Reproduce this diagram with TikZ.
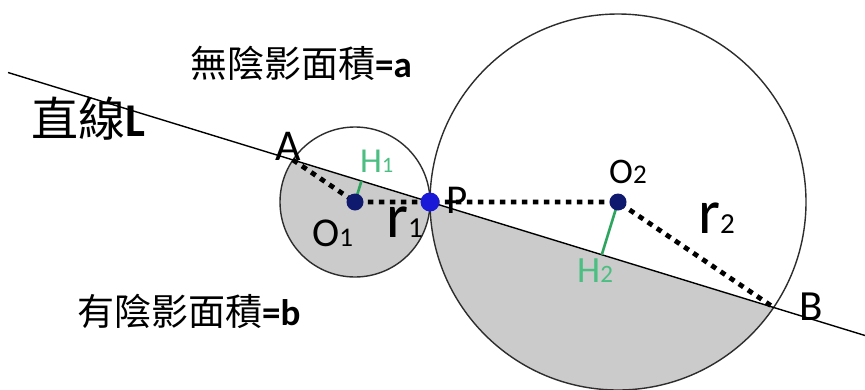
\documentclass[tikz,border=0pt]{standalone}
\usepackage{fontspec}
\setmainfont{Carlito}
\newfontfamily\cjk{Noto Sans CJK TC}
\usetikzlibrary{calc}
\definecolor{shadegray}{RGB}{203,203,203}
\definecolor{hgreen}{RGB}{45,165,95}
\definecolor{hlabel}{RGB}{75,190,130}
\definecolor{navydot}{RGB}{15,25,110}
\definecolor{pblue}{RGB}{25,25,215}
\definecolor{outlinegray}{RGB}{45,45,45}
\newcommand{\fs}[1]{\fontsize{#1}{#1}\selectfont}
\begin{document}
\begin{tikzpicture}[x=1pt,y=-1pt,
  circ/.style={draw=outlinegray,line width=1.4pt},
  dotline/.style={line width=4.8pt,dash pattern=on 5.5pt off 5.5pt},
  perp/.style={draw=hgreen,line width=2.6pt},
  lbl/.style={inner sep=0pt,anchor=base west},
  centre/.style={circle,inner sep=0pt,minimum size=18pt}]
\useasboundingbox (0,0) rectangle (865,389);
\fill[white] (0,0) rectangle (865,389);
% key points
\coordinate (L0) at (8,72.5);
\coordinate (L1) at (865,335.5);
\coordinate (O1) at (355,202);
\coordinate (O2) at (618,202);
\coordinate (P) at (430,202);
\coordinate (A) at (292.9,159.9);
\coordinate (B) at (773.7,307.5);
\coordinate (H1) at ($(L0)!(O1)!(L1)$);
\coordinate (H2) at ($(L0)!(O2)!(L1)$);
% shaded parts below the line
\begin{scope}
  \clip (0,70) -- (865,335.5) -- (865,400) -- (0,400) -- cycle;
  \fill[shadegray] (O1) circle[radius=75pt];
  \fill[shadegray] (O2) circle[radius=188pt];
\end{scope}
% circles
\draw[circ] (O1) circle[radius=75pt];
\draw[circ] (O2) circle[radius=188pt];
% line L
\draw[black,line width=1.4pt] (L0) -- (L1);
% radii (dotted)
\draw[dotline] (A) -- (O1) -- (P) -- (O2) -- (B);
% perpendiculars
\draw[perp] (O1) -- (H1);
\draw[perp] (O2) -- (H2);
% dots
\node[centre,fill=navydot,minimum size=17pt] (o1dot) at (O1) {};
\node[centre,fill=navydot,minimum size=17pt] (o2dot) at (O2) {};
\node[centre,fill=pblue,minimum size=19pt] (pdot) at (P) {};
% labels
\node[lbl] (tA) at (275,160) {\fs{44}A};
\node[lbl] (tB) at (799,320) {\fs{43}B};
\node[lbl] (tP) at (446,213) {\fs{41}P};
\node[lbl] (tO1) at (312,246) {\fs{41}O\fs{27}1};
\node[lbl] (tO2) at (609,183) {\fs{36}O\fs{27}2};
\node[lbl] (tr1) at (386,237) {\fs{63}r\fs{29}1};
\node[lbl] (tr2) at (698,233) {\fs{63}r\fs{29}2};
\node[lbl,text=hlabel] (tH1) at (360,172) {\fs{35}H\fs{22}1};
\node[lbl,text=hlabel] (tH2) at (577,282) {\fs{37}H\fs{25}2};
\node[lbl] (tL) at (31,136) {\fs{47}{\cjk 直線}\bfseries L};
\node[lbl] (ta) at (190,77) {\fs{37}{\cjk 無陰影面積}\bfseries =a};
\node[lbl] (tb) at (77,325) {\fs{37}{\cjk 有陰影面積}\bfseries =b};
\end{tikzpicture}
\end{document}
